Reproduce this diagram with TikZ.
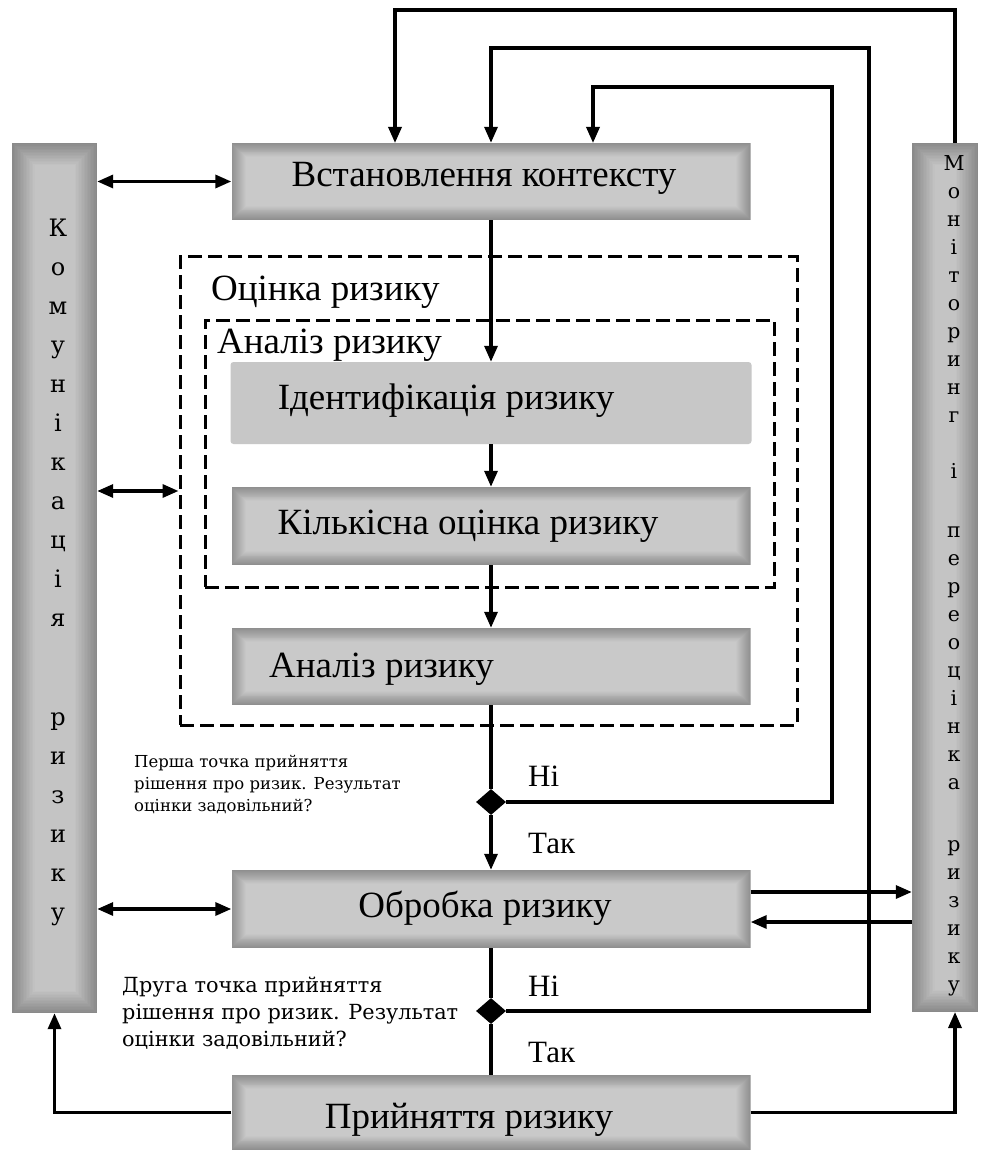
\documentclass[tikz,border=0pt]{standalone}
\usepackage{fontspec}
\setmainfont{Liberation Serif}
\newfontfamily\slab{DejaVu Serif}
\usetikzlibrary{arrows.meta,shapes.geometric,calc}
\definecolor{boxin}{gray}{0.79}
\definecolor{boxout}{gray}{0.56}
\definecolor{barin}{gray}{0.77}
\definecolor{barout}{gray}{0.54}
\definecolor{flatbox}{gray}{0.78}
\tikzset{
  vign/.style n args={3}{path picture={
      \foreach \k in {0,...,15}{
        \pgfmathsetmacro\pct{100-100*\k/15}
        \fill[#2!\pct!#1] ($(path picture bounding box.south west)+(\k*#3,-\k*#3)$)
          rectangle ($(path picture bounding box.north east)+(-\k*#3,\k*#3)$);
      }}},
  box/.style={rectangle, vign={boxin}{boxout}{0.95}, minimum width=519pt, minimum height=77pt, inner sep=0pt},
  flat/.style={rectangle, fill=flatbox, rounded corners=3pt, minimum width=521pt, minimum height=82pt, inner sep=0pt},
  bar/.style={rectangle, vign={barin}{barout}{1.5}, inner sep=0pt},
  lbl/.style={font=\fontsize{37}{42}\selectfont, inner sep=0pt, anchor=base},
  conn/.style={line width=3.3pt},
  arr/.style={conn, -{Triangle[length=16pt,width=13pt]}},
  darr/.style={conn, {Triangle[length=16pt,width=13pt]}-{Triangle[length=16pt,width=13pt]}},
  dashbox/.style={rectangle, draw, line width=3pt, dash pattern=on 14pt off 6pt, inner sep=0pt},
  yn/.style={font=\fontsize{31}{34}\selectfont, inner sep=0pt, anchor=base west},
  dec/.style={diamond, fill=black, minimum width=30pt, minimum height=26pt, inner sep=0pt},
  vtext/.style={align=center, anchor=north, inner sep=0pt},
  qtext/.style={align=left, anchor=north west, inner sep=0pt},
}
\begin{document}
\begin{tikzpicture}[x=1pt,y=-1pt]
\useasboundingbox[fill=white] (0,0) rectangle (990,1155);

% side bars
\node[bar, minimum width=85pt, minimum height=870pt] (comm) at (54.5,578) {};
\node[bar, minimum width=66pt, minimum height=869pt] (mon) at (945,577.5) {};
\node[vtext, font=\slab\fontsize{24}{39}\selectfont] (commtxt) at (58,219)
  {К\\о\\м\\у\\н\\і\\к\\а\\ц\\і\\я\\[60pt]р\\и\\з\\и\\к\\у};
\node[vtext, font=\slab\fontsize{20.5}{28}\selectfont] (montxt) at (954,155)
  {М\\о\\н\\і\\т\\о\\р\\и\\н\\г\\[28pt]і\\[31pt]п\\е\\р\\е\\о\\ц\\і\\н\\к\\а\\[34pt]р\\и\\з\\и\\к\\у};

% dashed frames
\node[dashbox, minimum width=617pt, minimum height=468pt] (assess) at (488.5,491) {};
\node[dashbox, minimum width=569pt, minimum height=267pt] (anal) at (489.5,453.5) {};

% boxes
\node[box] (ctx) at (491,181.5) {};
\node[flat] (ident) at (491,403) {};
\node[box, minimum height=78pt] (quant) at (491,526) {};
\node[box] (evalb) at (491,666.5) {};
\node[box, minimum height=78pt] (treat) at (491,909) {};
\node[box, minimum height=75pt] (accept) at (491,1112.5) {};

% texts
\node[lbl] (tctx) at (484,187) {Встановлення контексту};
\node[lbl, anchor=base west] (tassess) at (211,300) {Оцінка ризику};
\node[lbl, anchor=base west] (tanal) at (217,353) {Аналіз ризику};
\node[lbl] (tident) at (446,409) {Ідентифікація ризику};
\node[lbl] (tquant) at (468,534) {Кількісна оцінка ризику};
\node[lbl, anchor=base west] (teval) at (269,677) {Аналіз ризику};
\node[lbl] (ttreat) at (485,917) {Обробка ризику};
\node[lbl] (tacc) at (469,1128) {Прийняття ризику};

% decisions
\node[dec] (d1) at (491,802) {};
\node[dec] (d2) at (491,1011) {};
\node[yn] (no1) at (528,786) {Ні};
\node[yn] (yes1) at (528,853) {Так};
\node[yn] (no2) at (528,996) {Ні};
\node[yn] (yes2) at (528,1062) {Так};
\node[qtext, font=\slab\fontsize{16.5}{22}\selectfont] (q1) at (134,755)
  {Перша точка прийняття\\рішення про ризик. Результат\\оцінки задовільний?};
\node[qtext, font=\slab\fontsize{20.8}{27}\selectfont] (q2) at (122,977)
  {Друга точка прийняття\\рішення про ризик. Результат\\оцінки задовільний?};

% helper coordinates
\coordinate (k1) at (832,87);
\coordinate (t1) at (593,143);
\coordinate (k2) at (869,48);
\coordinate (m0) at (955,143);
\coordinate (k3) at (395,10);
\coordinate (t3) at (395,143);
\coordinate (mb) at (955,1012);
\coordinate (to) at ($(treat.east)+(0,-17)$);
\coordinate (fr) at ($(treat.east)+(0,13)$);

% connectors
\draw[darr] (comm.east |- ctx.west) -- (ctx.west);
\draw[darr] (comm.east |- assess.west) -- (assess.west);
\draw[darr] (comm.east |- treat.west) -- (treat.west);
\draw[arr] (ctx.south) -- (ident.north);
\draw[arr] (ident.south) -- (quant.north);
\draw[arr] (quant.south) -- (evalb.north);
\draw[conn] (evalb.south) -- (d1.north);
\draw[arr] (d1.south) -- (treat.north);
\draw[conn] (treat.south) -- (d2.north);
\draw[conn] (d2.south) -- (accept.north);
\draw[arr] (d1.east) -| (k1) -| (t1);
\draw[arr] (d2.east) -| (k2) -| (ctx.north);
\draw[arr] (m0) |- (k3) -- (t3);
\draw[arr] (to) -- (to -| mon.west);
\draw[arr] (fr -| mon.west) -- (fr);
\draw[arr] (accept.west) -| (comm.south);
\draw[arr] (accept.east) -| (mb);
\end{tikzpicture}
\end{document}
